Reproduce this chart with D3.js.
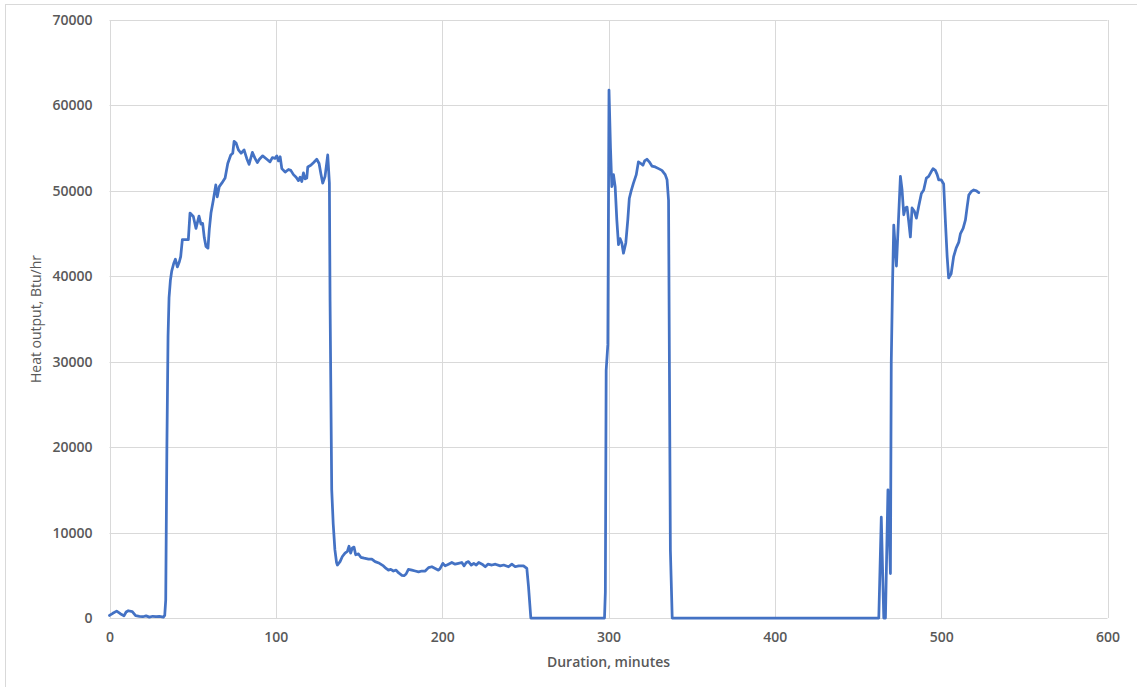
<!DOCTYPE html>
<html>
<head>
<meta charset="utf-8">
<script src="https://cdn.jsdelivr.net/npm/d3@7"></script>
<style>
  html, body { margin: 0; padding: 0; background: #fff; }
  svg { display: block; }
  text { font-family: "Open Sans", "Segoe UI", sans-serif; fill: #595959; }
</style>
</head>
<body>
<svg id="chart" width="1137" height="687"></svg>
<script>
// ---- data ----
const minutes = [
  0, 2, 4.3, 6.5, 8.7, 10, 11.3, 13.7, 15.7, 18, 20, 22, 24, 26, 28, 30, 32.4, 33.2, 33.8, 34.5,
  35.2, 35.8, 36.6, 37.4, 38.6, 39.6, 40.8, 42, 42.8, 43.8, 45.5, 47.4, 48.4, 50.4, 52, 53.8, 55, 56, 57, 58,
  59.2, 60, 61, 62.4, 63.9, 64.8, 66, 67.5, 69.5, 71.1, 72.9, 74.1, 74.9, 76.1, 77.5, 79.1, 80.9, 82.5, 83.9, 85.9,
  87.5, 88.9, 90.1, 92.1, 94.6, 96.5, 97.9, 99.5, 100.6, 101.6, 102.6, 103.6, 105.6, 107.6, 109, 110.6, 112.2, 113.6, 114.6, 115.6,
  116.6, 117.6, 118.6, 119.2, 121, 122.6, 124.6, 126, 127, 128.2, 129.6, 131.2, 132.2, 132.6, 133.6, 134.5, 135.5, 136.5, 137, 138.6,
  140, 141.6, 143, 144, 145, 146, 147, 148, 149.7, 151.1, 153.1, 155.7, 157.7, 159.7, 162.3, 164.7, 166.3, 167.7, 169.1, 170.7,
  172.3, 173.7, 175.8, 177.1, 178.3, 179.7, 181.8, 183.8, 185.8, 187.8, 189.8, 191.8, 193.8, 195.8, 197.8, 198.8, 200.4, 201.8, 203.8, 205.8,
  207.8, 209.8, 211.8, 213.2, 214.5, 215.8, 217.5, 219, 220.5, 222, 224, 225.9, 227.5, 229.9, 232, 234.9, 237, 239.9, 241.9, 243.9,
  246, 248.9, 250.9, 251.9, 253.3, 297.6, 298.1, 298.6, 299.6, 300.3, 301.2, 302, 303, 304, 305, 306, 307, 308, 309, 310.4,
  311.6, 312.5, 313.5, 315, 316.7, 318, 319.5, 320.7, 321.7, 323.1, 324.5, 326.1, 328.1, 330.1, 332.1, 334.1, 335.2, 336.1, 337.2, 338.3,
  462.5, 464, 465.5, 466.5, 468, 469.5, 470, 470.8, 471.5, 473.1, 475.5, 476.5, 477.5, 478.5, 479.5, 480.5, 481.5, 482.5, 483.9, 485.1,
  486.5, 488.1, 489.5, 491.1, 492.5, 493.9, 495.1, 496.5, 497.6, 498.5, 500, 501.5, 502.6, 503.6, 504.5, 506, 507.5, 509, 510.6, 511.6,
  513.2, 514.6, 515.6, 516.6, 518, 519.6, 521.2, 522.6
];
const heatOutput = [
  300, 550, 800, 500, 250, 700, 850, 750, 270, 200, 150, 250, 100, 200, 150, 200, 100, 300, 2100, 20000,
  33000, 37500, 39500, 40600, 41500, 42000, 41100, 41700, 42300, 44300, 44300, 44300, 47400, 47000, 45600, 47050, 46100, 46200, 44500, 43500,
  43300, 45500, 47400, 48900, 50700, 49300, 50500, 50900, 51500, 53200, 54200, 54400, 55800, 55600, 54800, 54400, 54800, 53800, 53100, 54500,
  53800, 53300, 53700, 54100, 53700, 53400, 53900, 53800, 54100, 53500, 54000, 52600, 52200, 52500, 52400, 51900, 51600, 51200, 51600, 51100,
  52100, 51400, 51500, 52800, 53000, 53300, 53700, 53200, 52100, 50900, 51700, 54200, 50900, 37200, 15000, 11000, 8000, 6500, 6200, 6600,
  7200, 7600, 7800, 8400, 7600, 8200, 8300, 7400, 7500, 7100, 7000, 6900, 6900, 6600, 6400, 6100, 5800, 5600, 5700, 5500,
  5600, 5300, 5000, 4950, 5150, 5700, 5600, 5500, 5400, 5500, 5500, 5900, 6000, 5800, 5600, 5800, 6400, 6100, 6300, 6500,
  6300, 6400, 6500, 6100, 6500, 6600, 6200, 6400, 6200, 6500, 6300, 6000, 6300, 6200, 6300, 6100, 6200, 6000, 6300, 6000,
  6100, 6100, 5800, 3700, 0, 0, 3000, 29000, 32000, 61800, 55000, 50500, 51900, 50500, 46600, 43700, 44400, 43900, 42700, 43900,
  46600, 49100, 49900, 50900, 51900, 53400, 53200, 53000, 53500, 53700, 53400, 52900, 52800, 52600, 52400, 51900, 51300, 48900, 8000, 0,
  0, 11800, 0, 0, 15000, 5200, 30000, 39500, 46000, 41200, 51700, 50100, 47200, 48000, 48100, 46400, 44600, 48000, 47600, 46800,
  48200, 49700, 50100, 51500, 51700, 52200, 52600, 52400, 51900, 51300, 51300, 50800, 46200, 42300, 39800, 40300, 42300, 43300, 44000, 45000,
  45600, 46600, 48100, 49500, 49900, 50100, 50000, 49800
];
const xTicks = [0, 100, 200, 300, 400, 500, 600];
const yTicks = [0, 10000, 20000, 30000, 40000, 50000, 60000, 70000];
const xTitle = "Duration, minutes";
const yTitle = "Heat output,  Btu/hr";

// ---- chart ----
const svg = d3.select("#chart");
const margin = { left: 109.5, right: 1107.5, top: 20, bottom: 618 };

svg.append("rect")
  .attr("x", 5.5).attr("y", 4.5)
  .attr("width", 1140).attr("height", 700)
  .attr("fill", "#fff").attr("stroke", "#d9d9d9").attr("stroke-width", 1);

const x = d3.scaleLinear().domain([0, 600]).range([margin.left, margin.right]);
const y = d3.scaleLinear().domain([0, 70000]).range([margin.bottom, margin.top]);

// horizontal gridlines
svg.append("g").selectAll("line").data(yTicks).join("line")
  .attr("x1", margin.left).attr("x2", margin.right)
  .attr("y1", d => Math.round(y(d)) + 0.5).attr("y2", d => Math.round(y(d)) + 0.5)
  .attr("stroke", "#d9d9d9").attr("stroke-width", 1);

// vertical gridlines
svg.append("g").selectAll("line").data(xTicks).join("line")
  .attr("x1", d => Math.round(x(d)) + 0.5).attr("x2", d => Math.round(x(d)) + 0.5)
  .attr("y1", margin.top).attr("y2", margin.bottom)
  .attr("stroke", "#d9d9d9").attr("stroke-width", 1);

// y tick labels
const yAxis = d3.axisLeft(y).tickValues(yTicks).tickFormat(d3.format("d")).tickSize(0).tickPadding(17);
const gy = svg.append("g").attr("transform", `translate(${margin.left},0)`).call(yAxis);
gy.select(".domain").remove();
gy.selectAll("text").style("font-size", "14px").style("font-weight", "600")
  .style("font-family", '"Open Sans", sans-serif').attr("fill", "#595959");

// x tick labels
const xAxis = d3.axisBottom(x).tickValues(xTicks).tickFormat(d3.format("d")).tickSize(0).tickPadding(14);
const gx = svg.append("g").attr("transform", `translate(0,${margin.bottom})`).call(xAxis);
gx.select(".domain").remove();
gx.selectAll("text").style("font-size", "14px").style("font-weight", "600")
  .style("font-family", '"Open Sans", sans-serif').attr("fill", "#595959");

// axis titles
svg.append("text")
  .attr("x", (margin.left + margin.right) / 2).attr("y", 667)
  .attr("text-anchor", "middle")
  .style("font-size", "14px").style("font-weight", "600")
  .text(xTitle);

svg.append("text")
  .attr("transform", `translate(41,${(margin.top + margin.bottom) / 2}) rotate(-90)`)
  .attr("text-anchor", "middle")
  .style("font-size", "14px").style("font-weight", "400")
  .text(yTitle);

// line
const data = minutes.map((m, i) => ({ m, v: heatOutput[i] }));
const line = d3.line().x(d => x(d.m)).y(d => y(d.v));
svg.append("path")
  .datum(data)
  .attr("d", line)
  .attr("fill", "none")
  .attr("stroke", "#4472C4")
  .attr("stroke-width", 2.75)
  .attr("stroke-linejoin", "round")
  .attr("stroke-linecap", "round");
</script>
</body>
</html>
